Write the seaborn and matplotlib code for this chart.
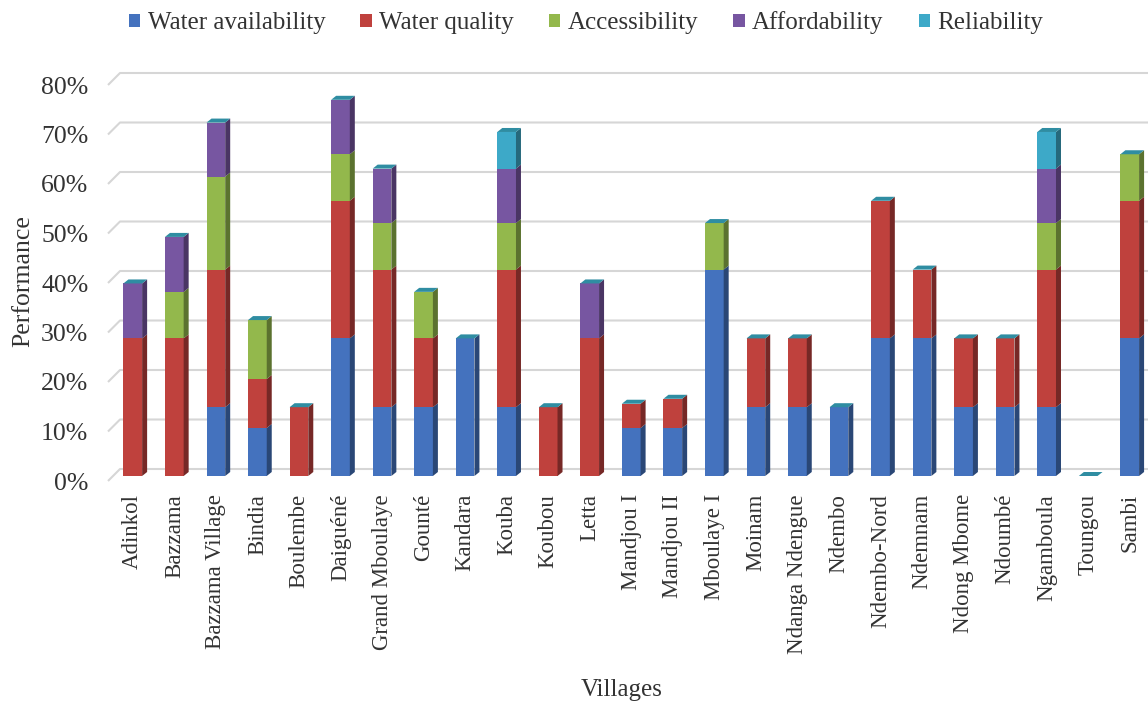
import matplotlib
matplotlib.use("Agg")
import matplotlib.pyplot as plt
import matplotlib.transforms as mtransforms
from matplotlib.patches import Polygon, Patch
from matplotlib.colors import to_rgb
import pandas as pd
import seaborn as sns

# ---- data (performance, %) ----
villages = [
    "Adinkol", "Bazzama", "Bazzama Village", "Bindia", "Boulembe", "Daiguéné",
    "Grand Mboulaye", "Gounté", "Kandara", "Kouba", "Koubou", "Letta",
    "Mandjou I", "Mandjou II", "Mboulaye I", "Moinam", "Ndanga Ndengue",
    "Ndembo", "Ndembo-Nord", "Ndemnam", "Ndong Mbome", "Ndoumbé",
    "Ngamboula", "Toungou", "Sambi",
]
water_availability = [0, 0, 13.9, 9.7, 0, 27.8, 13.9, 13.9, 27.8, 13.9, 0, 0,
                      9.7, 9.7, 41.7, 13.9, 13.9, 13.9, 27.8, 27.8, 13.9, 13.9,
                      13.9, 0, 27.8]
water_quality = [27.8, 27.8, 27.8, 9.9, 13.9, 27.8, 27.8, 13.9, 0, 27.8, 13.9, 27.8,
                 4.9, 5.9, 0, 13.9, 13.9, 0, 27.8, 13.9, 13.9, 13.9,
                 27.8, 0, 27.8]
accessibility = [0, 9.4, 18.8, 11.9, 0, 9.4, 9.4, 9.4, 0, 9.4, 0, 0,
                 0, 0, 9.4, 0, 0, 0, 0, 0, 0, 0,
                 9.4, 0, 9.4]
affordability = [11.1, 11.1, 10.9, 0, 0, 11.0, 11.0, 0, 0, 11.0, 0, 11.1,
                 0, 0, 0, 0, 0, 0, 0, 0, 0, 0,
                 11.0, 0, 0]
reliability = [0, 0, 0, 0, 0, 0, 0, 0, 0, 7.4, 0, 0,
               0, 0, 0, 0, 0, 0, 0, 0, 0, 0,
               7.4, 0, 0]

series_names = ["Water availability", "Water quality", "Accessibility",
                "Affordability", "Reliability"]
series_values = [water_availability, water_quality, accessibility,
                 affordability, reliability]
series_colors = ["#4472BE", "#BF413D", "#93B84C", "#7756A1", "#3DA9C8"]
top_color = "#2F8DA2"
y_ticks = [0, 10, 20, 30, 40, 50, 60, 70, 80]

sns.set_theme(style="white")
plt.rcParams["font.family"] = ["Liberation Serif", "DejaVu Serif"]
text_color = "#333333"

W, H = 1148, 704
fig = plt.figure(figsize=(W / 100, H / 100), dpi=100)
fig.patch.set_facecolor("white")
ax = fig.add_axes([112 / W, (H - 476) / H, 1038.5 / W, 420.75 / H])
ax.set_facecolor("none")

df = pd.DataFrame({"Village": villages})
for name, vals in zip(series_names, series_values):
    df[name] = vals
stack = df[series_names].cumsum(axis=1)

bar_w = 0.45
# stacked columns: draw cumulative totals from the top series downwards
for name, color in reversed(list(zip(series_names, series_colors))):
    sns.barplot(x=df["Village"], y=stack[name], order=villages, color=color,
                width=bar_w, saturation=1, linewidth=0, errorbar=None,
                ax=ax, zorder=2)

ax.set_xlim(-0.5, len(villages) - 0.5)
ax.set_ylim(0, 85)

# pixel scale of the data axes, used for the 3-D depth of the columns
p0 = ax.transData.transform((0, 0))
p1 = ax.transData.transform((1, 1))
px_x = p1[0] - p0[0]
px_y = p1[1] - p0[1]
dx, dy = 5 / px_x, 4 / px_y


def shade(c, f):
    r, g, b = to_rgb(c)
    return (r * f, g * f, b * f)


for i, v in enumerate(villages):
    x0, x1 = i - bar_w / 2, i + bar_w / 2
    lo = 0.0
    for name, color in zip(series_names, series_colors):
        val = df.loc[i, name]
        if val > 0:
            hi = lo + val
            ax.add_patch(Polygon([(x1, lo), (x1, hi), (x1 + dx, hi + dy),
                                  (x1 + dx, lo + dy)], closed=True,
                                 facecolor=shade(color, 0.62), edgecolor="none",
                                 zorder=2))
            lo = hi
    ax.add_patch(Polygon([(x0, lo), (x1, lo), (x1 + dx, lo + dy),
                          (x0 + dx, lo + dy)], closed=True,
                         facecolor=top_color, edgecolor="none", zorder=3))

# gridlines on the back wall, with the side-wall edge on the left
back_dy = 7 / px_y
front_dy = 5 / px_y
gx_start = -0.5 + 8 / px_x
gx_wall = -0.5 - 4 / px_x
for t in y_ticks:
    ax.plot([gx_wall, gx_start, len(villages) + 1],
            [t - front_dy, t + back_dy, t + back_dy],
            color="#D6D6D6", lw=1.5, zorder=0, clip_on=False,
            solid_capstyle="butt")

for s in ax.spines.values():
    s.set_visible(False)
ax.grid(False)

ax.set_yticks(y_ticks, labels=[f"{t}%" for t in y_ticks])
ax.tick_params(axis="y", length=0, pad=17, labelsize=18.5, labelcolor=text_color)
shift = mtransforms.ScaledTranslation(0, -5 / 100, fig.dpi_scale_trans)
for lbl in ax.get_yticklabels():
    lbl.set_transform(lbl.get_transform() + shift)

ax.set_xticks(range(len(villages)), labels=villages, rotation=90)
ax.tick_params(axis="x", length=0, pad=13, labelsize=16.5, labelcolor=text_color)
for lbl in ax.get_xticklabels():
    lbl.set_va("top")

ax.set_xlabel("Villages", fontsize=18, color=text_color, va="center")
ax.xaxis.set_label_coords((622 - 112) / 1038.5, (476 - 690) / 420.75)
ax.set_ylabel("Performance", fontsize=18.5, color=text_color, va="center")
ax.yaxis.set_label_coords((23 - 112) / 1038.5, (476 - 281) / 420.75)

handles = [Patch(facecolor=c, edgecolor="none", label=n)
           for n, c in zip(series_names, series_colors)]
fig.legend(handles=handles, loc="center", bbox_to_anchor=(586 / W, 1 - 23 / H),
           ncol=5, frameon=False, fontsize=18, handlelength=0.45,
           handleheight=0.45, handletextpad=0.3, columnspacing=1.4,
           labelcolor=text_color)

fig.savefig("out.png", dpi=100)
